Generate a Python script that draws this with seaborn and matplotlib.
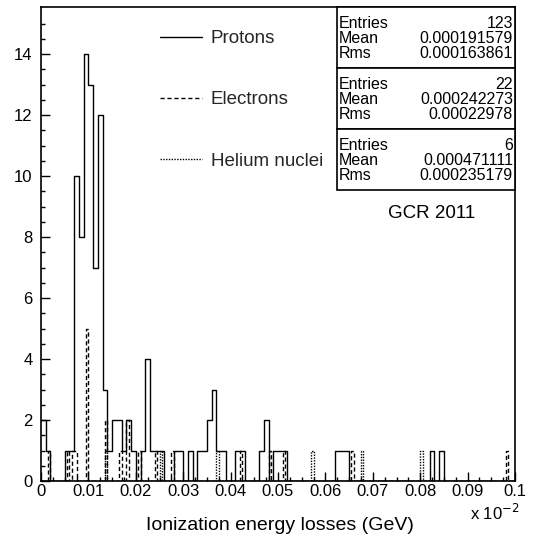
import numpy as np
import pandas as pd
import matplotlib
matplotlib.use("Agg")
import matplotlib.pyplot as plt
import seaborn as sns
from matplotlib.lines import Line2D
from matplotlib.patches import Rectangle

# ---------------- data ----------------
# protons: 100 bins over 0 .. 0.1 (x 10^-2 GeV)
proton_counts = [2, 1, 0, 0, 0, 1, 1, 10, 8, 14,
                 13, 7, 12, 3, 1, 2, 2, 1, 2, 1,
                 0, 1, 4, 1, 1, 1, 0, 0, 1, 1,
                 0, 1, 0, 1, 1, 2, 3, 1, 1, 0,
                 0, 1, 1, 0, 0, 0, 1, 2, 0, 1,
                 1, 1, 0, 0, 0, 0, 0, 0, 0, 0,
                 0, 0, 1, 1, 1, 0, 0, 0, 0, 0,
                 0, 0, 0, 0, 0, 0, 0, 0, 0, 0,
                 0, 0, 1, 0, 1, 0, 0, 0, 0, 0,
                 0, 0, 0, 0, 0, 0, 0, 0, 0, 0]
# electrons and helium nuclei: finer binning (200 bins), non-empty bins only
electron_x = [0.00175, 0.00575, 0.00675, 0.00725, 0.00975, 0.01375, 0.01675,
              0.01825, 0.02075, 0.02425, 0.02775, 0.04225, 0.04825, 0.05125,
              0.06575, 0.09825]
electron_counts = [1, 1, 1, 1, 5, 2, 1, 2, 1, 1, 1, 1, 1, 1, 1, 1]
helium_x = [0.01375, 0.02525, 0.03725, 0.05725, 0.06775, 0.08025]
helium_counts = [1, 1, 1, 1, 1, 1]

series_labels = ["Protons", "Electrons", "Helium nuclei"]
stat_entries = ["123", "22", "6"]
stat_means = ["0.000191579", "0.000242273", "0.000471111"]
stat_rms = ["0.000163861", "0.00022978", "0.000235179"]

x_ticks = [0, 0.01, 0.02, 0.03, 0.04, 0.05, 0.06, 0.07, 0.08, 0.09, 0.1]
x_tick_labels = ["0", "0.01", "0.02", "0.03", "0.04", "0.05", "0.06",
                 "0.07", "0.08", "0.09", "0.1"]
y_ticks = [0, 2, 4, 6, 8, 10, 12, 14]

# ---------------- style ----------------
sns.set_theme(style="ticks")
plt.rcParams['font.family'] = ['Liberation Sans', 'DejaVu Sans']
plt.rcParams['axes.linewidth'] = 1.2

W, H = 548, 536
fig = plt.figure(figsize=(W / 100, H / 100), dpi=100)
fig.patch.set_facecolor("white")
ax_l, ax_r, ax_t, ax_b = 41, 515, 7, 481
ax = fig.add_axes([ax_l / W, 1 - ax_b / H, (ax_r - ax_l) / W, (ax_b - ax_t) / H])
ax.set_facecolor("white")

p_edges = [round(v, 6) for v in np.linspace(0, 0.1, 101)]
p_centers = [(a + b) / 2 for a, b in zip(p_edges[:-1], p_edges[1:])]
df_p = pd.DataFrame({"x": p_centers, "w": proton_counts})
df_e = pd.DataFrame({"x": electron_x, "w": electron_counts})
df_h = pd.DataFrame({"x": helium_x, "w": helium_counts})
fine_edges = [round(v, 6) for v in np.linspace(0, 0.1, 201)]

sns.histplot(data=df_p, x="x", weights="w", bins=p_edges, element="step",
             fill=False, color="black", linewidth=1.0, ax=ax)
sns.histplot(data=df_e, x="x", weights="w", bins=fine_edges, element="step",
             fill=False, color="black", linewidth=1.0, linestyle=(0, (3, 2)), ax=ax)
sns.histplot(data=df_h, x="x", weights="w", bins=fine_edges, element="step",
             fill=False, color="black", linewidth=1.0, linestyle=(0, (1, 1)), ax=ax)

ax.set_xlim(0, 0.1)
ax.set_ylim(0, 15.55)
ax.set_xticks(x_ticks)
ax.set_xticklabels(x_tick_labels)
ax.set_xticks(np.arange(0, 0.1001, 0.0025), minor=True)
ax.set_yticks(y_ticks)
ax.set_yticklabels([str(v) for v in y_ticks])
ax.set_yticks(np.arange(0, 15.5, 0.5), minor=True)
ax.tick_params(axis="both", which="major", direction="in", length=6.5, width=1.0,
               labelsize=12, color="black", labelcolor="black")
ax.tick_params(axis="both", which="minor", direction="in", length=3.2, width=1.0,
               color="black")
ax.tick_params(axis="x", which="major", pad=2)
ax.tick_params(axis="y", which="major", pad=6)
for s in ax.spines.values():
    s.set_visible(True)
    s.set_color("black")
    s.set_linewidth(1.2)
ax.set_xlabel("")
ax.set_ylabel("")

fig.text(280 / W, 1 - 525 / H, "Ionization energy losses (GeV)", ha="center",
         va="center", fontsize=14, color="black")
fig.text(470 / W, 1 - 513 / H, r"x 10$^{-2}$", ha="left", va="center",
         fontsize=12, color="black")

# legend
handles = [Line2D([], [], color="black", lw=1.0, ls="-"),
           Line2D([], [], color="black", lw=1.0, ls=(0, (3, 2))),
           Line2D([], [], color="black", lw=1.0, ls=(0, (1, 1)))]
ax.legend(handles, series_labels, loc="upper left",
          bbox_to_anchor=((160 - ax_l) / (ax_r - ax_l), 1 - (30 - ax_t) / (ax_b - ax_t)),
          frameon=False, fontsize=13.5, handlelength=2.25, handletextpad=0.45,
          labelspacing=2.35, borderpad=0, borderaxespad=0)

# statistics boxes
box_left = (337 - ax_l) / (ax_r - ax_l)
seps = [7, 68, 129, 190]
fy = lambda ypx: (ax_b - ypx) / (ax_b - ax_t)
fx = lambda xpx: (xpx - ax_l) / (ax_r - ax_l)
for i in range(3):
    top, bot = seps[i], seps[i + 1]
    ax.add_patch(Rectangle((box_left, fy(bot)), 1 - box_left, fy(top) - fy(bot),
                           transform=ax.transAxes, facecolor="white",
                           edgecolor="black", lw=1.2, zorder=5, clip_on=False))
    rows = [("Entries", stat_entries[i]), ("Mean", stat_means[i]), ("Rms", stat_rms[i])]
    for j, (k, v) in enumerate(rows):
        yc = top + 16.5 + j * 15
        ax.text(fx(339), fy(yc), k, transform=ax.transAxes, ha="left",
                va="center", fontsize=11.5, zorder=6, color="black")
        ax.text(fx(513), fy(yc), v, transform=ax.transAxes, ha="right",
                va="center", fontsize=11.5, zorder=6, color="black")

ax.text(fx(432), fy(213), "GCR 2011", transform=ax.transAxes, ha="center",
        va="center", fontsize=13.5, color="black")

fig.savefig("out.png", dpi=100, facecolor="white")
